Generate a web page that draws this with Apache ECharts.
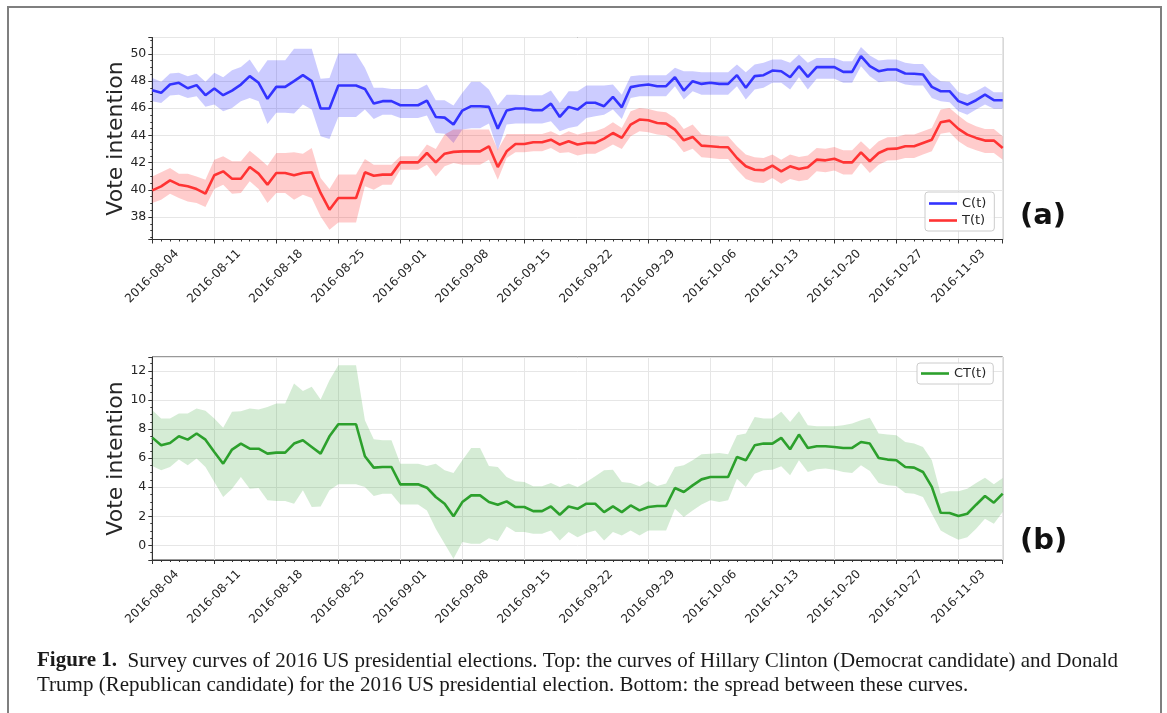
<!DOCTYPE html>
<html><head><meta charset="utf-8">
<script src="https://cdn.jsdelivr.net/npm/echarts@6/dist/echarts.min.js"></script>
<style>html,body{margin:0;padding:0;background:#fff}#c{width:1167px;height:713px}</style>
</head><body><div id="c"></div><script>
// x positions: day index from 2016-08-04 (0) to 2016-11-08 (96)
const tickLabels = ['2016-08-04','2016-08-11','2016-08-18','2016-08-25','2016-09-01','2016-09-08','2016-09-15',
  '2016-09-22','2016-09-29','2016-10-06','2016-10-13','2016-10-20','2016-10-27','2016-11-03'];
const dayCount = 97;

const cMean = [47.33,47.13,47.74,47.87,47.47,47.7,46.96,47.45,46.96,47.3,47.74,48.36,47.87,46.69,47.57,47.57,47.99,48.43,47.99,45.98,45.98,47.67,47.67,47.67,47.42,46.34,46.52,46.52,46.22,46.22,46.22,46.56,45.36,45.31,44.8,45.83,46.15,46.15,46.1,44.5,45.83,45.98,45.98,45.85,45.85,46.34,45.36,
  46.1,45.9,46.4,46.4,46.15,46.83,46.07,47.55,47.67,47.74,47.62,47.62,48.28,47.3,47.99,47.79,47.87,47.79,47.79,48.43,47.5,48.36,48.43,48.77,48.72,48.28,49.09,48.31,49.02,49.02,49.02,48.67,48.67,49.83,49.09,48.72,48.85,48.85,48.55,48.53,48.48,47.57,47.25,47.25,46.52,46.27,46.59,47.0,46.59,46.59];
const cUpper = [48.23,47.94,48.55,48.6,48.36,48.53,47.94,48.6,48.28,48.8,49.04,49.58,48.6,49.53,49.53,49.53,50.37,50.37,50.37,48.16,48.23,50.02,50.02,50.02,48.97,47.5,47.5,47.42,47.42,47.42,47.42,47.74,46.59,46.59,46.2,47.13,47.94,47.94,47.37,46.2,47.0,47.0,46.96,46.96,46.96,47.3,46.39,
  47.25,47.25,47.67,47.67,47.67,47.74,47.0,48.36,48.43,48.43,48.43,48.43,48.97,48.72,48.72,48.65,48.65,48.65,48.65,49.21,48.65,49.21,49.34,49.58,49.58,49.34,49.95,49.34,49.7,49.7,49.7,49.46,49.46,50.51,49.88,49.51,49.58,49.58,49.34,49.26,49.26,48.48,47.99,47.94,47.2,47.0,47.25,47.62,47.18,47.18];
const cLower = [46.52,46.39,46.93,47.0,46.76,46.88,46.1,46.27,45.78,46.02,46.52,46.76,46.52,44.85,45.66,45.66,45.61,46.27,45.9,43.94,43.74,45.36,45.36,45.36,45.9,45.21,45.53,45.53,45.29,45.29,45.29,45.46,44.18,44.13,43.45,44.43,44.53,44.53,44.87,42.9,44.8,44.87,44.87,44.87,44.87,45.04,44.31,
  44.55,44.67,45.29,45.41,45.53,45.9,45.21,46.76,46.88,46.88,46.88,46.88,47.62,46.64,47.25,47.0,47.0,47.0,47.0,47.62,46.64,47.37,47.5,47.87,47.87,47.37,48.28,47.37,48.16,48.16,48.16,47.87,47.87,49.09,48.36,47.91,47.99,47.99,47.74,47.67,47.67,46.76,46.52,46.44,45.78,45.53,45.9,46.27,45.97,45.97];

const tMean = [39.96,40.26,40.7,40.38,40.26,40.06,39.72,41.07,41.36,40.82,40.82,41.68,41.19,40.38,41.24,41.24,41.07,41.24,41.29,39.77,38.54,39.4,39.4,39.4,41.29,41.04,41.12,41.12,42.02,42.02,42.02,42.71,42.02,42.66,42.79,42.83,42.83,42.83,43.2,41.68,42.83,43.37,43.37,43.5,43.5,43.69,43.33,
  43.57,43.33,43.45,43.45,43.77,44.18,43.82,44.8,45.17,45.12,44.92,44.87,44.43,43.64,43.89,43.25,43.2,43.15,43.13,42.34,41.73,41.48,41.44,41.78,41.36,41.73,41.53,41.66,42.22,42.17,42.29,42.02,42.02,42.76,42.1,42.71,43.0,43.03,43.2,43.2,43.45,43.69,44.97,45.09,44.48,44.06,43.82,43.62,43.62,43.08];
const tUpper = [40.99,41.29,41.6,41.19,41.19,40.99,40.75,42.22,42.47,42.1,42.1,42.88,42.34,41.78,42.71,42.71,42.76,42.66,43.08,40.87,40.06,41.12,41.12,41.12,42.27,41.85,41.85,41.85,42.47,42.47,42.47,43.33,43.0,44.06,44.43,44.43,44.43,44.43,44.43,42.95,44.1,44.1,44.1,44.1,44.1,44.3,44.0,
  44.31,44.06,44.23,44.31,44.55,44.97,44.55,45.78,46.02,45.95,45.78,45.71,45.29,44.48,44.8,44.06,43.99,43.94,43.94,43.2,42.59,42.39,42.34,42.59,42.22,42.59,42.42,42.52,43.08,43.03,43.15,42.91,42.91,43.57,42.96,43.57,43.87,43.89,44.06,44.06,44.31,44.55,45.9,46.02,45.46,44.97,44.67,44.48,44.48,43.94];
const tLower = [39.03,39.28,39.72,39.4,39.15,39.03,38.74,40.06,40.38,39.72,39.77,40.63,40.06,39.03,39.77,39.77,39.28,39.64,39.4,38.05,37.07,37.6,37.6,37.6,40.26,40.01,40.38,40.38,41.48,41.48,41.48,41.85,40.99,41.73,41.98,41.85,41.85,41.85,42.22,40.75,42.34,42.76,42.76,42.83,42.83,43.08,42.71,
  42.76,42.52,42.66,42.66,42.96,43.33,43.0,43.94,44.31,44.23,44.06,43.99,43.57,42.76,43.03,42.39,42.34,42.27,42.27,41.48,40.8,40.55,40.5,40.87,40.45,40.8,40.63,40.75,41.36,41.29,41.43,41.12,41.12,41.98,41.24,41.85,42.15,42.17,42.34,42.34,42.59,42.83,44.13,44.23,43.57,43.15,42.91,42.71,42.71,42.22];

const ctMean = [7.41,6.88,7.04,7.5,7.27,7.69,7.27,6.42,5.62,6.59,7.0,6.65,6.65,6.31,6.38,6.38,7.0,7.23,6.77,6.31,7.5,8.33,8.33,8.33,6.13,5.35,5.39,5.39,4.2,4.2,4.2,3.97,3.33,2.87,2.0,2.98,3.44,3.44,2.98,2.8,3.03,2.64,2.64,2.36,2.36,2.68,2.11,
  2.68,2.52,2.87,2.87,2.29,2.68,2.29,2.75,2.41,2.64,2.71,2.71,3.95,3.67,4.13,4.54,4.7,4.7,4.7,6.08,5.85,6.88,7.0,7.0,7.39,6.61,7.62,6.7,6.82,6.82,6.77,6.7,6.7,7.11,7.0,6.01,5.9,5.85,5.39,5.35,5.05,4.02,2.25,2.23,2.02,2.18,2.8,3.4,2.94,3.56];
const ctUpper = [9.29,8.72,8.72,9.06,9.06,9.41,9.25,8.72,8.08,9.18,9.22,9.41,9.34,9.52,9.75,9.75,11.13,10.62,10.9,10.03,11.36,12.39,12.39,12.39,8.6,7.3,7.23,7.23,5.62,5.62,5.62,5.46,5.62,5.16,4.98,5.85,6.7,6.7,5.46,5.39,4.7,4.41,4.36,4.06,4.06,4.29,4.02,
  4.25,4.02,4.36,4.75,5.16,5.21,4.36,4.29,4.06,4.41,4.08,4.25,5.39,5.51,5.85,6.26,6.31,6.36,6.26,7.57,7.69,8.83,8.72,8.72,9.18,8.49,9.22,8.26,8.19,8.19,8.19,8.26,8.38,8.6,8.77,7.69,7.62,7.57,7.11,7.0,6.77,5.85,3.56,3.72,3.72,3.9,4.29,4.66,4.2,4.64];
const ctLower = [5.46,5.16,5.39,5.9,5.51,5.97,5.39,4.36,3.33,3.9,4.7,3.9,3.95,3.1,3.05,3.05,2.87,3.79,2.64,2.68,3.79,4.2,4.2,4.2,4.02,3.4,3.56,3.56,2.82,2.82,2.82,2.41,1.15,0.11,-0.92,0.23,0.11,0.11,0.5,0.3,1.31,0.92,0.92,0.8,0.8,1.03,0.34,
  0.92,0.57,0.85,1.03,0.34,0.92,0.69,1.03,0.69,1.03,1.03,1.03,2.52,1.95,2.41,2.82,3.1,2.98,3.1,4.59,4.02,4.93,5.16,5.21,5.44,4.82,5.85,5.05,5.23,5.28,5.21,5.05,4.98,5.51,5.12,4.29,4.13,4.08,3.6,3.56,3.33,2.18,1.03,0.69,0.39,0.57,1.15,1.84,1.49,2.29];

const days = Array.from({length: dayCount}, (_, i) => i);
const pts = arr => arr.map((v, i) => [days[i], v]);

const TXT = '#262626';
const FONT = 'DejaVu Sans';

function xAxis(gi) {
  return {
    gridIndex: gi, type: 'value', min: 0, max: 96, interval: 7,
    axisLine: {show: true, onZero: false, lineStyle: {color: '#333', width: 1}},
    axisTick: {show: true, length: 4, lineStyle: {color: '#333'}},
    minorTick: {show: true, splitNumber: 7, length: 2, lineStyle: {color: '#333'}},
    splitLine: {show: true, lineStyle: {color: '#e6e6e6', width: 1}},
    axisLabel: {
      rotate: 45, align: 'center', verticalAlign: 'middle', margin: 37,
      fontSize: 12, fontFamily: FONT, color: TXT,
      formatter: v => (v % 7 === 0 && tickLabels[v / 7]) || ''
    }
  };
}
function yAxis(gi, min, max) {
  return {
    gridIndex: gi, type: 'value', min: min, max: max, splitNumber: 7,
    name: 'Vote intention', nameLocation: 'middle', nameGap: 25, nameMoveOverlap: false,
    nameTextStyle: {fontSize: 22, fontFamily: FONT, color: TXT},
    axisLine: {show: true, onZero: false, lineStyle: {color: '#333', width: 1}},
    axisTick: {show: true, length: 4, lineStyle: {color: '#333'}},
    minorTick: {show: true, splitNumber: 4, length: 2, lineStyle: {color: '#333'}},
    splitLine: {show: true, lineStyle: {color: '#e6e6e6', width: 1}},
    axisLabel: {
      margin: 6, fontSize: 12.5, fontFamily: FONT, color: TXT,
      formatter: v => { const r = Math.round(v); return (Math.abs(v - r) < 1e-6 && r % 2 === 0) ? String(r) : ''; }
    }
  };
}
// shaded band drawn as one polygon through the axis scales (api.coord)
function band(gi, lo, up, color) {
  return {
    type: 'custom', xAxisIndex: gi, yAxisIndex: gi, silent: true, z: 1,
    data: days.map((d, i) => [d, lo[i], up[i]]),
    encode: {x: 0, y: [1, 2]},
    renderItem: (params, api) => {
      if (params.dataIndex !== 0) return null;
      const top = up.map((v, i) => api.coord([days[i], v]));
      const bot = lo.map((v, i) => api.coord([days[i], v])).reverse();
      return {type: 'polygon', shape: {points: top.concat(bot)}, style: {fill: color, stroke: null}};
    }
  };
}
function line(name, gi, arr, color) {
  return {type: 'line', name: name, xAxisIndex: gi, yAxisIndex: gi, data: pts(arr), color: color,
    symbol: 'none', showSymbol: false, lineStyle: {color: color, width: 2.6}, z: 3};
}

const chart = echarts.init(document.getElementById('c'), null, {renderer: 'canvas'});
chart.setOption({
  animation: false,
  backgroundColor: '#fff',
  textStyle: {fontFamily: FONT},
  grid: [
    {left: 152.3, top: 37.5, width: 850.4, height: 202, show: true, borderColor: '#333', borderWidth: 1, backgroundColor: 'transparent', outerBoundsMode: 'none'},
    {left: 152.3, top: 357, width: 850.4, height: 203, show: true, borderColor: '#333', borderWidth: 1, backgroundColor: 'transparent', outerBoundsMode: 'none'}
  ],
  xAxis: [xAxis(0), xAxis(1)],
  yAxis: [yAxis(0, 36.35, 51.2), yAxis(1, -1.0, 12.95)],
  legend: [
    {data: ['C(t)', 'T(t)'], orient: 'vertical', left: 925, top: 192, icon: 'rect', itemWidth: 28, itemHeight: 2.6,
     itemGap: 4, padding: [5, 8, 4, 4], backgroundColor: 'rgba(255,255,255,0.85)', borderColor: '#cccccc', borderWidth: 1, borderRadius: 3,
     textStyle: {fontSize: 13, fontFamily: FONT, color: TXT}},
    {data: ['CT(t)'], orient: 'vertical', left: 917, top: 363, icon: 'rect', itemWidth: 28, itemHeight: 2.6,
     padding: [4, 7, 4, 4], backgroundColor: 'rgba(255,255,255,0.85)', borderColor: '#cccccc', borderWidth: 1, borderRadius: 3,
     textStyle: {fontSize: 13, fontFamily: FONT, color: TXT}}
  ],
  graphic: [
    {type: 'rect', silent: true, shape: {x: 8, y: 7, width: 1153, height: 730}, style: {fill: 'none', stroke: '#7f7f7f', lineWidth: 2}},
    {type: 'text', silent: true, x: 1020, y: 216, style: {text: '(a)', font: 'bold 29px "DejaVu Sans"', fill: '#111', verticalAlign: 'middle'}},
    {type: 'text', silent: true, x: 1020, y: 541, style: {text: '(b)', font: 'bold 29px "DejaVu Sans"', fill: '#111', verticalAlign: 'middle'}},
    {type: 'text', silent: true, x: 37, y: 661, style: {
      text: '{b|Figure 1.}  Survey curves of 2016 US presidential elections. Top: the curves of Hillary Clinton (Democrat candidate) and Donald',
      font: '21px "Liberation Serif"', fill: '#1a1a1a', verticalAlign: 'middle',
      rich: {b: {fontWeight: 'bold', fontFamily: 'Liberation Serif', fontSize: 21, fill: '#1a1a1a'}}}},
    {type: 'text', silent: true, x: 37, y: 685, style: {
      text: 'Trump (Republican candidate) for the 2016 US presidential election. Bottom: the spread between these curves.',
      font: '21px "Liberation Serif"', fill: '#1a1a1a', verticalAlign: 'middle'}}
  ],
  series: [
    band(0, cLower, cUpper, 'rgba(0,0,255,0.2)'),
    band(0, tLower, tUpper, 'rgba(255,0,0,0.2)'),
    band(1, ctLower, ctUpper, 'rgba(44,160,44,0.2)'),
    line('C(t)', 0, cMean, '#3333ff'),
    line('T(t)', 0, tMean, '#ff3333'),
    line('CT(t)', 1, ctMean, '#2ca02c')
  ]
});
</script></body></html>
